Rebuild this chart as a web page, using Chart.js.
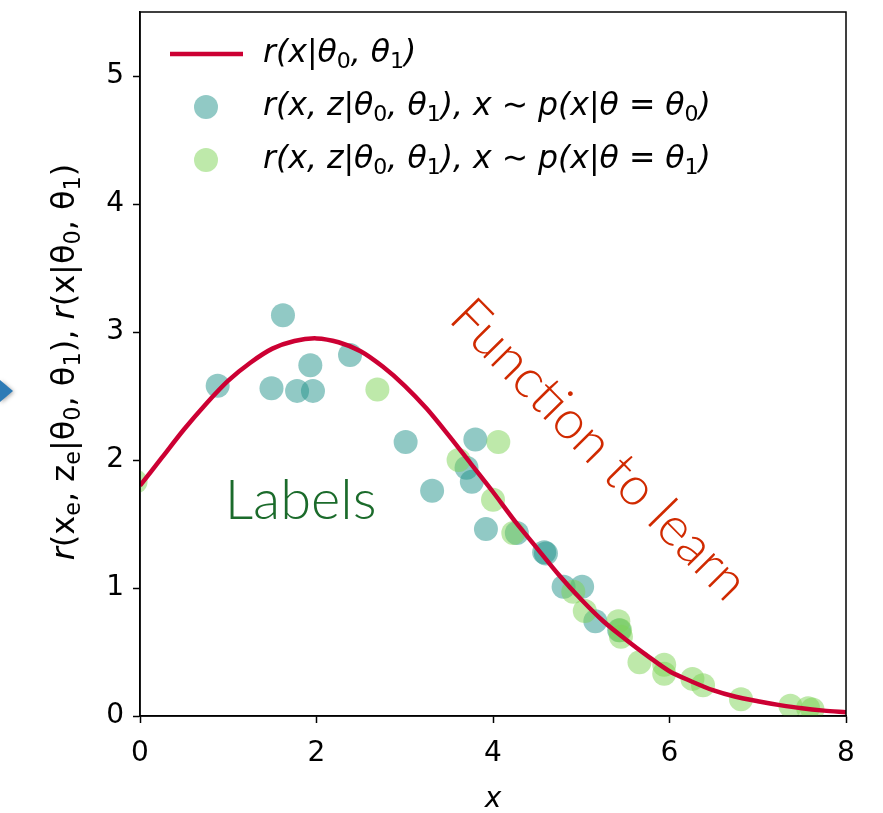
<!DOCTYPE html>
<html>
<head>
<meta charset="utf-8">
<script src="https://cdn.jsdelivr.net/npm/chart.js@4.4.1/dist/chart.umd.min.js"></script>
<style>
  html, body { margin: 0; padding: 0; background: #fff; }
</style>
</head>
<body>
<canvas id="ratio" width="883" height="813"></canvas>
<script>
// ---- data ----
const curveX = [0, 0.25, 0.5, 0.75, 1, 1.25, 1.5, 1.75, 2, 2.25, 2.5, 2.75, 3, 3.25, 3.5, 3.75,
  4, 4.25, 4.5, 4.75, 5, 5.25, 5.5, 5.75, 6, 6.25, 6.5, 6.75, 7, 7.25, 7.5, 7.75, 8];
const curveY = [1.80, 2.02, 2.24, 2.44, 2.62, 2.76, 2.87, 2.93, 2.95, 2.92, 2.85, 2.73, 2.58, 2.40, 2.19, 1.97,
  1.75, 1.52, 1.31, 1.10, 0.91, 0.74, 0.60, 0.47, 0.35, 0.27, 0.20, 0.15, 0.115, 0.085, 0.06, 0.042, 0.029];

// samples drawn from p(x|theta0)
const theta0X = [0.88, 1.62, 1.49, 1.78, 1.93, 1.96, 2.38, 3.01, 3.31, 3.80, 3.70, 3.76, 3.92, 4.27, 4.58, 4.60, 4.80, 5.01, 5.16, 5.43];
const theta0Y = [2.58, 3.13, 2.56, 2.54, 2.74, 2.54, 2.82, 2.14, 1.76, 2.16, 1.94, 1.83, 1.46, 1.43, 1.28, 1.27, 1.01, 1.01, 0.74, 0.67];

// samples drawn from p(x|theta1)
const theta1X = [-0.05, 2.69, 4.06, 3.61, 4.00, 4.23, 4.91, 5.04, 5.42, 5.44, 5.45, 5.66, 5.94, 5.94, 6.26, 6.38, 6.81, 7.37, 7.57, 7.62];
const theta1Y = [1.83, 2.55, 2.14, 2.00, 1.69, 1.43, 0.97, 0.82, 0.74, 0.67, 0.62, 0.42, 0.40, 0.33, 0.29, 0.24, 0.13, 0.08, 0.06, 0.05];

const xTicks = [0, 2, 4, 6, 8];
const yTicks = [0, 1, 2, 3, 4, 5];

const RED = '#cc0033';
const TEAL = 'rgba(35,147,139,0.5)';
const GREEN = 'rgba(125,211,85,0.5)';
const FONT = '"DejaVu Sans"';

const toPoints = (xs, ys) => xs.map((x, i) => ({ x: x, y: ys[i] }));

// text runs: [text, italic, subscript]
function richWidth(ctx, segs, size) {
  let w = 0;
  segs.forEach(([t, it, sub]) => {
    ctx.font = `${it ? 'italic ' : ''}${sub ? size * 0.7 : size}px ${FONT}`;
    w += ctx.measureText(t).width;
  });
  return w;
}
function drawRich(ctx, segs, x, y, size) {
  let cx = x;
  ctx.textBaseline = 'middle';
  ctx.textAlign = 'left';
  segs.forEach(([t, it, sub]) => {
    ctx.font = `${it ? 'italic ' : ''}${sub ? size * 0.7 : size}px ${FONT}`;
    ctx.fillText(t, cx, y + (sub ? size * 0.25 : 0));
    cx += ctx.measureText(t).width;
  });
}

const legendRows = [
  { kind: 'line', color: RED, text: [['r(x|θ', 1], ['0', 0, 1], [', θ', 1], ['1', 0, 1], [')', 1]] },
  { kind: 'dot', color: TEAL, text: [['r(x, z|θ', 1], ['0', 0, 1], [', θ', 1], ['1', 0, 1], ['), x ∼ p(x|θ = θ', 1], ['0', 0, 1], [')', 1]] },
  { kind: 'dot', color: GREEN, text: [['r(x, z|θ', 1], ['0', 0, 1], [', θ', 1], ['1', 0, 1], ['), x ∼ p(x|θ = θ', 1], ['1', 0, 1], [')', 1]] }
];

const yTitle = [['r', 1], ['(x', 0], ['e', 0, 1], [', z', 0], ['e', 0, 1], ['|θ', 0], ['0', 0, 1], [', θ', 0], ['1', 0, 1],
  ['), ', 0], ['r', 1], ['(x|θ', 0], ['0', 0, 1], [', θ', 0], ['1', 0, 1], [')', 0]];

const extras = {
  id: 'extras',
  afterDraw(chart) {
    const ctx = chart.ctx;
    const a = chart.chartArea;
    const sx = chart.scales.x, sy = chart.scales.y;
    ctx.save();

    // full box around the axes
    ctx.strokeStyle = '#000';
    ctx.lineWidth = 1.5;
    ctx.strokeRect(a.left, a.top, a.right - a.left, a.bottom - a.top);

    // legend
    legendRows.forEach((row, i) => {
      const cy = 54 + i * 53;
      if (row.kind === 'line') {
        ctx.strokeStyle = row.color;
        ctx.lineWidth = 4.5;
        ctx.beginPath();
        ctx.moveTo(170, cy);
        ctx.lineTo(243, cy);
        ctx.stroke();
      } else {
        ctx.fillStyle = row.color;
        ctx.beginPath();
        ctx.arc(206, cy, 12, 0, Math.PI * 2);
        ctx.fill();
      }
      ctx.fillStyle = '#000';
      drawRich(ctx, row.text, 263, cy, 31.5);
    });

    // axis titles
    ctx.fillStyle = '#000';
    ctx.font = `italic 28px ${FONT}`;
    ctx.textAlign = 'center';
    ctx.textBaseline = 'middle';
    ctx.fillText('x', (a.left + a.right) / 2, 800);

    ctx.save();
    ctx.translate(66, 362);
    ctx.rotate(-Math.PI / 2);
    const w = richWidth(ctx, yTitle, 32);
    drawRich(ctx, yTitle, -w / 2, 0, 32);
    ctx.restore();

    // annotations
    ctx.fillStyle = '#1b6b2b';
    ctx.font = `300 56px Lato`;
    ctx.textAlign = 'center';
    ctx.textBaseline = 'middle';
    ctx.fillText('Labels', sx.getPixelForValue(1.82), sy.getPixelForValue(1.68));

    ctx.save();
    ctx.translate(sx.getPixelForValue(5.2), sy.getPixelForValue(2.08));
    ctx.rotate(45.5 * Math.PI / 180);
    ctx.fillStyle = '#d02a00';
    ctx.font = `300 54px Lato`;
    ctx.fillText('Function to learn', 0, 0);
    ctx.restore();

    // arrow tip from the neighbouring panel
    ctx.shadowColor = 'rgba(0,0,0,0.35)';
    ctx.shadowBlur = 4;
    ctx.shadowOffsetX = 1;
    ctx.shadowOffsetY = 1;
    ctx.fillStyle = '#2d7bb6';
    ctx.beginPath();
    ctx.moveTo(0, 380);
    ctx.lineTo(13, 391);
    ctx.lineTo(0, 402);
    ctx.closePath();
    ctx.fill();

    ctx.restore();
  }
};

const axisCommon = {
  type: 'linear',
  grid: {
    display: true,
    drawOnChartArea: false,
    drawTicks: true,
    tickLength: 7,
    tickColor: '#000',
    tickWidth: 1.5
  },
  border: { display: true, color: '#000', width: 1.5 },
  ticks: { color: '#000', font: { family: 'DejaVu Sans', size: 28 } }
};

new Chart(document.getElementById('ratio'), {
  type: 'scatter',
  data: {
    datasets: [
      {
        type: 'line',
        label: 'r(x|θ0, θ1)',
        data: toPoints(curveX, curveY),
        borderColor: RED,
        borderWidth: 4.5,
        pointRadius: 0,
        tension: 0.3,
        fill: false,
        clip: 0,
        order: 0
      },
      {
        label: 'theta0',
        data: toPoints(theta0X, theta0Y),
        backgroundColor: TEAL,
        borderWidth: 0,
        pointRadius: 12,
        pointHoverRadius: 12,
        clip: 0,
        order: 2
      },
      {
        label: 'theta1',
        data: toPoints(theta1X, theta1Y),
        backgroundColor: GREEN,
        borderWidth: 0,
        pointRadius: 12,
        pointHoverRadius: 12,
        clip: 0,
        order: 1
      }
    ]
  },
  options: {
    responsive: false,
    animation: false,
    events: [],
    layout: { padding: { top: 12, right: 37, left: 0, bottom: 0 } },
    plugins: { legend: { display: false }, tooltip: { enabled: false } },
    scales: {
      x: {
        ...axisCommon,
        min: 0, max: 8,
        afterBuildTicks: s => { s.ticks = xTicks.map(v => ({ value: v })); },
        afterFit: s => { s.height = 97; s.paddingLeft = 0; s.paddingRight = 0; },
        ticks: { ...axisCommon.ticks, padding: 14, maxRotation: 0 }
      },
      y: {
        ...axisCommon,
        min: 0, max: 5.5,
        afterBuildTicks: s => { s.ticks = yTicks.map(v => ({ value: v })); },
        afterFit: s => { s.width = 140; s.paddingTop = 0; s.paddingBottom = 0; },
        ticks: { ...axisCommon.ticks, padding: 9 }
      }
    }
  },
  plugins: [extras]
});
</script>
</body>
</html>
